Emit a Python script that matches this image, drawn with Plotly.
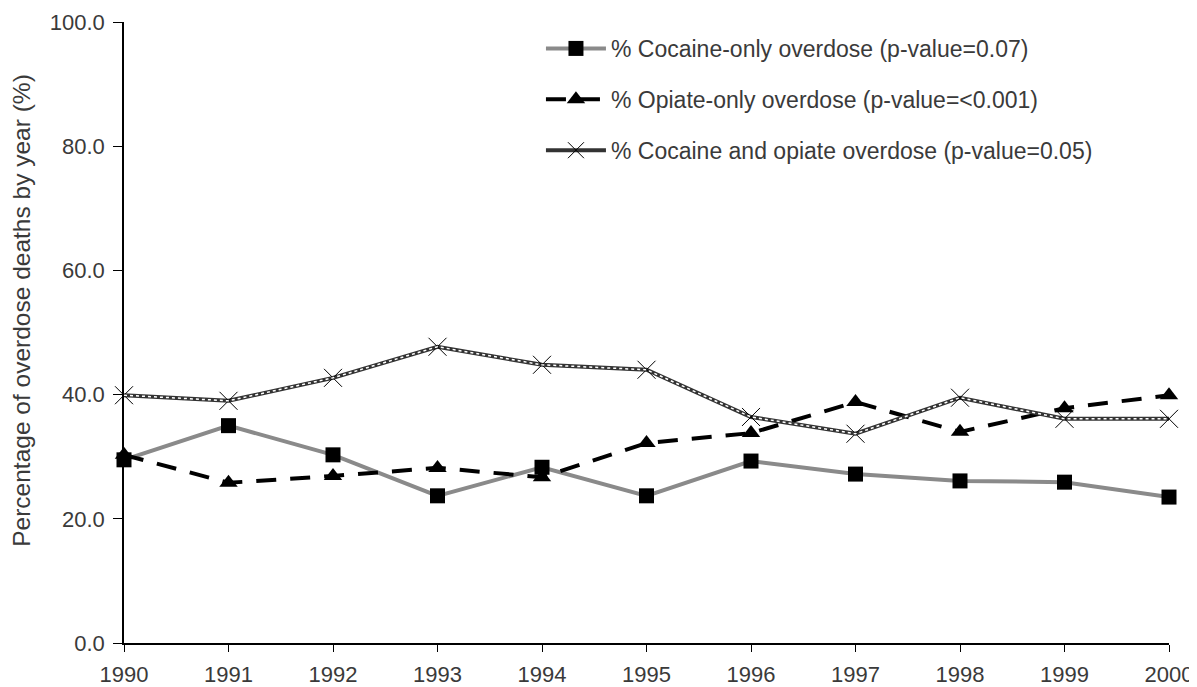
import plotly.graph_objects as go

years = [1990, 1991, 1992, 1993, 1994, 1995, 1996, 1997, 1998, 1999, 2000]
cocaine_only = [29.5, 35.0, 30.3, 23.7, 28.3, 23.7, 29.3, 27.2, 26.1, 25.9, 23.5]
opiate_only = [30.3, 25.8, 26.9, 28.2, 26.7, 32.2, 33.8, 38.8, 34.0, 37.8, 39.9]
combined = [39.9, 39.0, 42.7, 47.7, 44.8, 44.0, 36.4, 33.7, 39.5, 36.1, 36.1]

names = [
    "% Cocaine-only overdose (p-value=0.07)",
    "% Opiate-only overdose (p-value=<0.001)",
    "% Cocaine and opiate overdose (p-value=0.05)",
]

font_family = "Liberation Sans, Arial, sans-serif"
txt_color = "#3a3a3a"

fig = go.Figure()

fig.add_trace(go.Scatter(
    x=years, y=cocaine_only, name=names[0], mode="lines+markers",
    line=dict(color="#8a8a8a", width=4),
    marker=dict(symbol="square", size=15, color="black"),
    legendgroup="a", cliponaxis=False,
))
fig.add_trace(go.Scatter(
    x=years, y=opiate_only, name=names[1], mode="lines+markers",
    line=dict(color="black", width=4, dash="20px,14px"),
    marker=dict(symbol="triangle-up", size=16, color="black"),
    legendgroup="b", cliponaxis=False,
))
fig.add_trace(go.Scatter(
    x=years, y=combined, name=names[2], mode="lines+markers",
    line=dict(color="#333333", width=4),
    marker=dict(symbol="x-thin-open", size=18, color="black",
                line=dict(width=1, color="#333333")),
    legendgroup="c", cliponaxis=False,
))
fig.add_trace(go.Scatter(
    x=years, y=combined, mode="lines", showlegend=False,
    line=dict(color="white", width=1.5, dash="dot"),
    hoverinfo="skip", cliponaxis=False,
))

fig.update_layout(
    width=1189, height=679,
    margin=dict(l=116, r=28, t=14, b=44, autoexpand=False),
    paper_bgcolor="white", plot_bgcolor="white",
    font=dict(family=font_family, size=22, color=txt_color),
    legend=dict(
        x=0.399, y=0.992, xanchor="left", yanchor="top",
        font=dict(size=23, color=txt_color),
        tracegroupgap=18, bgcolor="rgba(0,0,0,0)",
        itemwidth=60,
    ),
    xaxis=dict(
        range=[1990, 2000], tickmode="array", tickvals=years,
        ticktext=[str(y) for y in years],
        showline=True, linecolor="black", linewidth=1.5,
        ticks="outside", ticklen=7, tickcolor="black",
        showgrid=False, zeroline=False, automargin=False,
        ticklabelstandoff=4,
        tickfont=dict(size=22, color=txt_color),
    ),
    yaxis=dict(
        range=[0, 100], dtick=20, tickformat=".1f",
        showline=True, linecolor="black", linewidth=1.5,
        ticks="outside", ticklen=9, tickcolor="black",
        showgrid=False, zeroline=False, automargin=False,
        ticklabelstandoff=4,
        tickfont=dict(size=22, color=txt_color),
    ),
    annotations=[dict(
        text="Percentage of overdose deaths by year (%)",
        xref="paper", yref="paper", x=-0.0976, y=0.535,
        xanchor="center", yanchor="middle", textangle=-90,
        showarrow=False, font=dict(size=24.5, color=txt_color),
    )],
)

fig.write_html("out.html")
